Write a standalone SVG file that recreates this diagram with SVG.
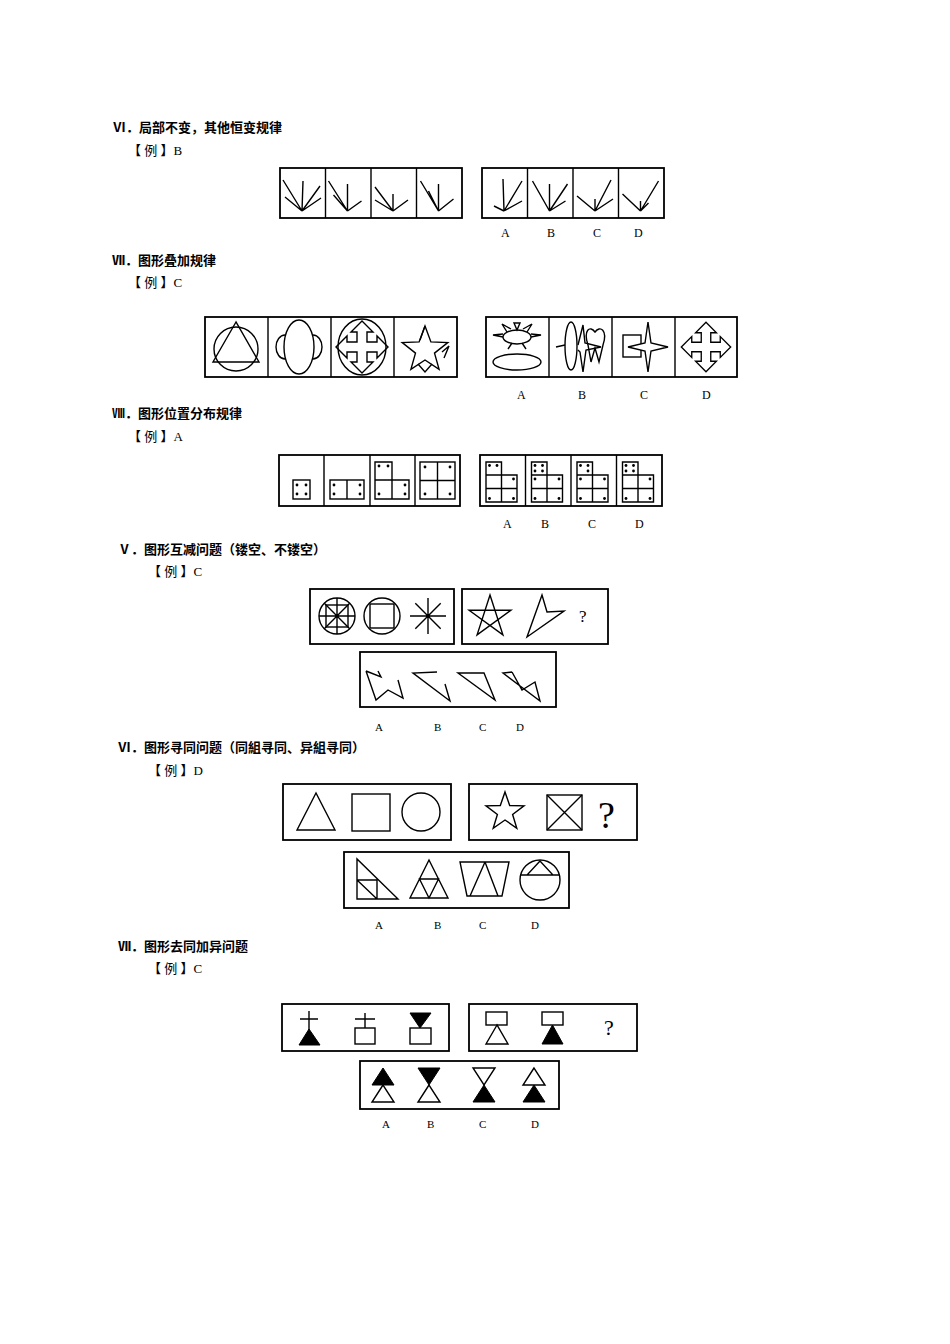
<svg xmlns="http://www.w3.org/2000/svg" xmlns:xlink="http://www.w3.org/1999/xlink" width="950" height="1344" viewBox="0 0 950 1344">
<style>
.h{font-family:"Noto Sans CJK SC","Liberation Sans",sans-serif;font-weight:bold;font-size:13px;fill:#000}
.e{font-family:"Liberation Serif","Noto Sans CJK SC",serif;font-size:13px;fill:#000}
.l{font-family:"Liberation Serif",serif;font-size:12px;fill:#000}
.b{fill:#fff;stroke:#000;stroke-width:1.8}
.s{fill:none;stroke:#000;stroke-width:1.4}
.f{fill:#000;stroke:#000;stroke-width:1}
.w{fill:#fff;stroke:#000;stroke-width:1.4}
.d{fill:#000}
</style>
<defs>
<path id="xa" d="M0,-26 L11,-15 L5,-15 L5,-5 L15,-5 L15,-11 L26,0 L15,11 L15,5 L5,5 L5,15 L11,15 L0,26 L-11,15 L-5,15 L-5,5 L-15,5 L-15,11 L-26,0 L-15,-11 L-15,-5 L-5,-5 L-5,-15 L-11,-15 Z" fill="none" stroke="#000" stroke-width="1.4"/>
</defs>
<rect width="950" height="1344" fill="#fff"/>

<!-- Section 1 -->
<g id="sec1">
<text class="h" x="113" y="132">Ⅵ．局部不变，其他恒变规律</text>
<text class="e" x="128" y="155">【 例 】B</text>
<rect class="b" x="280" y="168" width="182" height="50"/>
<path class="s" d="M325.5,168V218M371,168V218M416.5,168V218"/>
<rect class="b" x="482" y="168" width="182" height="50"/>
<path class="s" d="M527.5,168V218M573,168V218M618.5,168V218"/>
<path class="s" d="M302,211 l-19,-31 M302,211 l-17,-14 M302,211 l1,-30 M302,211 l18,-25 M302,211 l19,-13"/>
<path class="s" d="M347.5,211 l-19,-30 M347.5,211 l-14,-16 M347.5,211 l0,-27 M347.5,211 l14,-10"/>
<path class="s" d="M393,211 l-18,-24 M393,211 l-18,-11 M393,211 l0,-17 M393,211 l15,-11"/>
<path class="s" d="M438.5,211 l-18,-30 M438.5,211 l-10,-20 M438.5,211 l0,-27 M438.5,211 l15,-12"/>
<path class="s" d="M504,211 l-1,-32 M504,211 l18,-30 M504,211 l18,-10 M504,211 l-10,-5"/>
<path class="s" d="M549.5,211 l-17,-30 M549.5,211 l0,-27 M549.5,211 l18,-27 M549.5,211 l16,-10"/>
<path class="s" d="M595,211 l-18,-15 M595,211 l0,-12 M595,211 l16,-31 M595,211 l18,-12"/>
<path class="s" d="M640.5,211 l-18,-17 M640.5,211 l0,-10 M640.5,211 l18,-30 M640.5,211 l8,-8"/>
<text class="l" x="501" y="237">A</text><text class="l" x="547" y="237">B</text><text class="l" x="593" y="237">C</text><text class="l" x="634" y="237">D</text>
</g>

<!-- Section 2 -->
<g id="sec2">
<text class="h" x="112" y="265">Ⅶ．图形叠加规律</text>
<text class="e" x="128" y="287">【 例 】C</text>
<rect class="b" x="205" y="317" width="252" height="60"/>
<path class="s" d="M268,317V377M331,317V377M394,317V377"/>
<rect class="b" x="486" y="317" width="251" height="60"/>
<path class="s" d="M549,317V377M612,317V377M675,317V377"/>
<circle class="s" cx="236" cy="349" r="22"/>
<path class="s" d="M236,322 L213,362 L259,362 Z"/>
<ellipse class="s" cx="299" cy="347" rx="15" ry="27"/>
<path class="s" d="M285,335 A9,12 0 0 0 285,359 M313,335 A9,12 0 0 1 313,359"/>
<ellipse class="s" cx="362" cy="347" rx="24" ry="28"/>
<use xlink:href="#xa" transform="translate(362,347)"/>
<path class="s" d="M425,326 L430.9,341.9 L447.8,342.6 L434.5,353.1 L439.1,369.4 L425,360 L410.9,369.4 L415.5,353.1 L402.2,342.6 L419.1,341.9 Z"/>
<path class="s" d="M425,326 L420,340 M442,352 L449,346 L444,358 M418,364 L425,372 L432,364"/>
<ellipse class="s" cx="517" cy="337" rx="14" ry="7"/>
<path class="s" d="M503,337 l-10,-2 l10,-1 M531,337 l10,-2 l-10,-1 M507,332 l-5,-8 l9,5 M527,332 l5,-8 l-9,5 M517,330 l-3,-7 l6,0 Z M512,343 l-4,6 M522,343 l4,6"/>
<ellipse class="s" cx="517" cy="362" rx="24" ry="8"/>
<ellipse class="s" cx="571" cy="346" rx="6" ry="24"/>
<path class="s" d="M556,347 L565,345 M578,345 L583,325 L585,343 L601,347 L586,350 L583,372 L580,352 L578,350"/>
<path class="s" d="M588,345 C583,330 590,325 595,332 C600,325 608,330 603,345 L599,362 L595,348 L591,362 Z"/>
<rect class="s" x="623" y="335" width="18" height="22"/>
<path class="w" d="M648,322 L651,343 L668,347 L651,351 L648,372 L645,351 L628,347 L645,343 Z"/>
<use xlink:href="#xa" transform="translate(706,347) scale(0.95)"/>
<text class="l" x="517" y="399">A</text><text class="l" x="578" y="399">B</text><text class="l" x="640" y="399">C</text><text class="l" x="702" y="399">D</text>
</g>

<!-- Section 3 -->
<g id="sec3">
<text class="h" x="112" y="418">Ⅷ．图形位置分布规律</text>
<text class="e" x="128" y="441">【 例 】A</text>
<rect class="b" x="279" y="455" width="181" height="51"/>
<path class="s" d="M324,455V506M370,455V506M415,455V506"/>
<rect class="b" x="480" y="455" width="182" height="51"/>
<path class="s" d="M525.5,455V506M571,455V506M616.5,455V506"/>
<rect class="s" x="293" y="480" width="17" height="19"/>
<g class="d"><circle cx="297" cy="485" r="1.4"/><circle cx="306" cy="485" r="1.4"/><circle cx="297" cy="494" r="1.4"/><circle cx="306" cy="494" r="1.4"/></g>
<rect class="s" x="330" y="480" width="34" height="19"/><path class="s" d="M347,480V499"/>
<g class="d"><circle cx="334" cy="485" r="1.4"/><circle cx="334" cy="494" r="1.4"/><circle cx="360" cy="485" r="1.4"/><circle cx="360" cy="494" r="1.4"/></g>
<path class="s" d="M375,462H392V480H409V499H375Z M392,480V499 M375,480H392"/>
<g class="d"><circle cx="379" cy="466" r="1.4"/><circle cx="388" cy="466" r="1.4"/><circle cx="405" cy="485" r="1.4"/><circle cx="405" cy="494" r="1.4"/><circle cx="379" cy="494" r="1.4"/></g>
<rect class="s" x="420" y="462" width="35" height="37"/><path class="s" d="M437.5,462V499M420,480.5H455"/>
<g class="d"><circle cx="425" cy="467" r="1.4"/><circle cx="450" cy="467" r="1.4"/><circle cx="425" cy="494" r="1.4"/><circle cx="450" cy="494" r="1.4"/></g>
<g id="Lshapes">
<path class="s" d="M486,462H501.5V475H517V502H486Z M486,475H501.5V502 M486,488.5H517"/>
<path class="s" d="M531.5,462H547V475H562.5V502H531.5Z M531.5,475H547V502 M531.5,488.5H562.5"/>
<path class="s" d="M577,462H592.5V475H608V502H577Z M577,475H592.5V502 M577,488.5H608"/>
<path class="s" d="M622.5,462H638V475H653.5V502H622.5Z M622.5,475H638V502 M622.5,488.5H653.5"/>
</g>
<g class="d">
<circle cx="489.5" cy="465.5" r="1.4"/><circle cx="497" cy="465.5" r="1.4"/><circle cx="513.5" cy="479" r="1.4"/><circle cx="489.5" cy="498.5" r="1.4"/><circle cx="513.5" cy="498.5" r="1.4"/>
<circle cx="535" cy="465.5" r="1.4"/><circle cx="542.5" cy="465.5" r="1.4"/><circle cx="535" cy="471" r="1.4"/><circle cx="542.5" cy="471" r="1.4"/><circle cx="535" cy="479" r="1.4"/><circle cx="559" cy="479" r="1.4"/><circle cx="535" cy="498.5" r="1.4"/><circle cx="559" cy="498.5" r="1.4"/>
<circle cx="580.5" cy="465.5" r="1.4"/><circle cx="588" cy="465.5" r="1.4"/><circle cx="588" cy="471" r="1.4"/><circle cx="580.5" cy="479" r="1.4"/><circle cx="604.5" cy="479" r="1.4"/><circle cx="580.5" cy="498.5" r="1.4"/><circle cx="604.5" cy="498.5" r="1.4"/>
<circle cx="626" cy="465.5" r="1.4"/><circle cx="633.5" cy="465.5" r="1.4"/><circle cx="626" cy="471" r="1.4"/><circle cx="633.5" cy="471" r="1.4"/><circle cx="650" cy="479" r="1.4"/><circle cx="626" cy="498.5" r="1.4"/><circle cx="650" cy="498.5" r="1.4"/>
</g>
<text class="l" x="503" y="528">A</text><text class="l" x="541" y="528">B</text><text class="l" x="588" y="528">C</text><text class="l" x="635" y="528">D</text>
</g>

<!-- Section 4 -->
<g id="sec4">
<text class="h" x="118" y="554">Ⅴ．图形互减问题（镂空、不镂空）</text>
<text class="e" x="148" y="576">【 例 】C</text>
<rect class="b" x="310" y="589" width="144" height="55"/>
<rect class="b" x="462" y="589" width="146" height="55"/>
<rect class="b" x="360" y="652" width="196" height="55"/>
<circle class="s" cx="337" cy="616" r="18"/>
<rect class="s" x="326" y="605" width="22" height="22"/>
<path class="s" d="M319,616H355M337,598V634M324.3,603.3L349.7,628.7M349.7,603.3L324.3,628.7"/>
<circle class="s" cx="382" cy="616" r="18"/>
<rect class="s" x="370" y="604" width="24" height="24"/>
<path class="s" d="M410,616H446M428,598V634M415.3,603.3L440.7,628.7M440.7,603.3L415.3,628.7"/>
<circle class="d" cx="337" cy="616" r="1.5"/><circle class="d" cx="428" cy="616" r="1.5"/>
<path class="s" d="M490,595 L502.9,634.8 L469.1,610.2 L510.9,610.2 L477.1,634.8 Z"/>
<path class="s" d="M542,595 L547,612 L564,611 L527,637 Z"/>
<text class="e" x="579" y="622" style="font-size:17px">?</text>
<path class="s" d="M366,671 L381,677 L378,671 M366,671 L376,700 L388,690 L403,698 L398,680"/>
<path class="s" d="M437,672 L413,673 L450,701 L445,684"/>
<path class="s" d="M458,673 L484,673 L495,700 Z"/>
<path class="s" d="M512,672 L503,673 L540,701 L535,682 L522,690 L512,672"/>
<text class="l" x="375" y="731" style="font-size:11px">A</text><text class="l" x="434" y="731" style="font-size:11px">B</text><text class="l" x="479" y="731" style="font-size:11px">C</text><text class="l" x="516" y="731" style="font-size:11px">D</text>
</g>

<!-- Section 5 -->
<g id="sec5">
<text class="h" x="118" y="752">Ⅵ．图形寻同问题（同組寻同、异組寻同）</text>
<text class="e" x="148" y="775">【 例 】D</text>
<rect class="b" x="283" y="784" width="168" height="56"/>
<rect class="b" x="469" y="784" width="168" height="56"/>
<rect class="b" x="344" y="852" width="225" height="56"/>
<path class="s" d="M316,793 L297,830 L335,830 Z"/>
<rect class="s" x="352" y="794" width="38" height="37"/>
<ellipse class="s" cx="421" cy="812" rx="19" ry="19"/>
<path class="s" d="M505,792 L509.7,805.5 L524,805.8 L512.6,814.5 L516.8,828.2 L505,820 L493.2,828.2 L497.4,814.5 L486,805.8 L500.3,805.5 Z"/>
<rect class="s" x="547" y="795" width="35" height="35"/>
<path class="s" d="M547,795L582,830M582,795L547,830"/>
<text class="e" x="598" y="828" style="font-size:38px">?</text>
<path class="s" d="M357,859 L357,899 L398,899 Z M357,880 H377 V899 M357,880 L377,899"/>
<path class="s" d="M429,860 L410,898 L448,898 Z M419.5,879 H438.5 L429,898 Z"/>
<path class="s" d="M460,862 H509 L502,896 H467 Z M485,862 L470,896 M485,862 L498,896"/>
<circle class="s" cx="540" cy="880" r="20"/>
<path class="s" d="M540,861 L527,875 H553 Z M520.5,875 H559.5"/>
<text class="l" x="375" y="929" style="font-size:11px">A</text><text class="l" x="434" y="929" style="font-size:11px">B</text><text class="l" x="479" y="929" style="font-size:11px">C</text><text class="l" x="531" y="929" style="font-size:11px">D</text>
</g>

<!-- Section 6 -->
<g id="sec6">
<text class="h" x="118" y="951">Ⅶ．图形去同加异问题</text>
<text class="e" x="148" y="973">【 例 】C</text>
<rect class="b" x="282" y="1004" width="167" height="47"/>
<rect class="b" x="469" y="1004" width="168" height="47"/>
<rect class="b" x="360" y="1061" width="199" height="48"/>
<path class="s" d="M309,1011V1030M300,1019H318"/>
<path class="f" d="M309,1029 L299,1045 L320,1045 Z"/>
<path class="s" d="M365,1013V1028M355,1019H375"/>
<rect class="s" x="355" y="1028" width="20" height="16"/>
<path class="f" d="M410,1013 L431,1013 L420,1028 Z"/>
<rect class="s" x="410" y="1028" width="21" height="16"/>
<rect class="s" x="486" y="1012" width="21" height="13"/>
<path class="w" d="M497,1025 L486,1044 L508,1044 Z"/>
<rect class="s" x="542" y="1012" width="21" height="13"/>
<path class="f" d="M552.5,1025 L542,1044 L563,1044 Z"/>
<text class="e" x="604" y="1035" style="font-size:22px">?</text>
<path class="f" d="M383,1068 L372,1085 L394,1085 Z"/>
<path class="w" d="M383,1085 L372,1102 L394,1102 Z"/>
<path class="f" d="M418,1068 L440,1068 L429,1085 Z"/>
<path class="w" d="M429,1085 L418,1102 L440,1102 Z"/>
<path class="w" d="M473,1068 L495,1068 L484,1085 Z"/>
<path class="f" d="M484,1085 L473,1102 L495,1102 Z"/>
<path class="w" d="M534,1068 L523,1085 L545,1085 Z"/>
<path class="f" d="M534,1085 L523,1102 L545,1102 Z"/>
<text class="l" x="382" y="1128" style="font-size:11px">A</text><text class="l" x="427" y="1128" style="font-size:11px">B</text><text class="l" x="479" y="1128" style="font-size:11px">C</text><text class="l" x="531" y="1128" style="font-size:11px">D</text>
</g>
</svg>
